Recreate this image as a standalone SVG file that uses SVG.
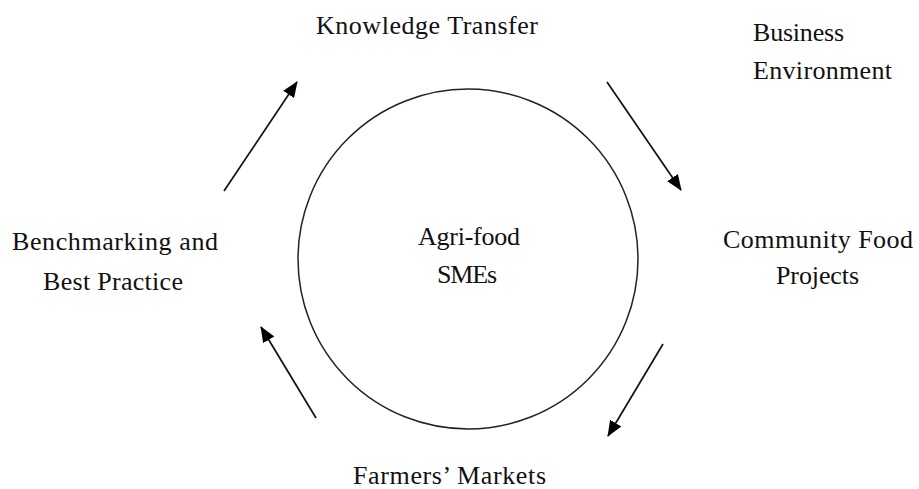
<svg xmlns="http://www.w3.org/2000/svg" width="919" height="489" viewBox="0 0 919 489">
<defs>
<style>
.t{font-family:"Liberation Serif","Times New Roman",serif;font-size:26px;fill:#111}
.c{text-anchor:middle}
</style>
<marker id="ah2" viewBox="0 0 16 13" refX="15" refY="6.5" markerWidth="16" markerHeight="13" markerUnits="userSpaceOnUse" orient="auto">
<path d="M0,0 L16,6.5 L0,13 z" fill="#000"/>
</marker>
</defs>
<rect width="919" height="489" fill="#fff"/>
<g id="center">
<circle cx="468" cy="259" r="170" fill="none" stroke="#222" stroke-width="1.5"/>
<text class="t c" x="469" y="245" textLength="102" lengthAdjust="spacing">Agri-food</text>
<text class="t c" x="467" y="283" textLength="60" lengthAdjust="spacing">SMEs</text>
</g>
<g id="knowledge-transfer">
<text class="t" x="316" y="34" textLength="222" lengthAdjust="spacing">Knowledge Transfer</text>
</g>
<g id="business-environment">
<text class="t" x="753" y="41" textLength="91" lengthAdjust="spacing">Business</text>
<text class="t" x="753" y="79" textLength="139" lengthAdjust="spacing">Environment</text>
</g>
<g id="community-food-projects">
<text class="t" x="723" y="248" textLength="190" lengthAdjust="spacing">Community Food</text>
<text class="t" x="776" y="284" textLength="83" lengthAdjust="spacing">Projects</text>
</g>
<g id="farmers-markets">
<text class="t" x="353" y="484" textLength="193" lengthAdjust="spacing">Farmers’ Markets</text>
</g>
<g id="benchmarking">
<text class="t" x="12" y="250" textLength="206" lengthAdjust="spacing">Benchmarking and</text>
<text class="t" x="43" y="290" textLength="140" lengthAdjust="spacing">Best Practice</text>
</g>
<g id="connectors" stroke="#111" stroke-width="1.7" fill="none">
<line x1="224" y1="191" x2="297" y2="82" marker-end="url(#ah2)"/>
<line x1="607" y1="82" x2="681" y2="190" marker-end="url(#ah2)"/>
<line x1="663" y1="344" x2="608" y2="436" marker-end="url(#ah2)"/>
<line x1="316" y1="418" x2="261" y2="327" marker-end="url(#ah2)"/>
</g>
</svg>
